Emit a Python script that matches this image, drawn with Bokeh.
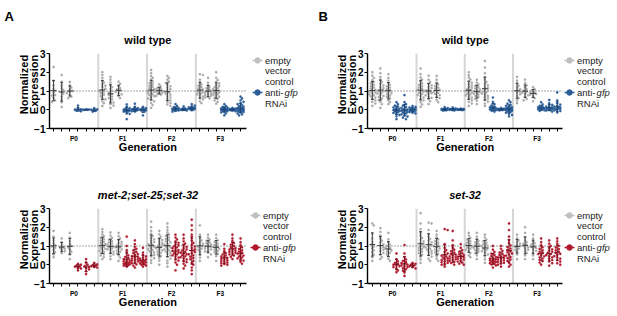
import numpy as np
from bokeh.plotting import figure
from bokeh.layouts import row, column
from bokeh.models import Range1d, FixedTicker, LinearAxis, Title
from bokeh.embed import file_html
from bokeh.resources import INLINE
from bokeh.core.properties import value

GENERATIONS = ["P0", "F1", "F2", "F3"]

# ---------- Panel A: wild type (top-left) ----------
a_P0 = [
    [2.28, 1.55, 1.3, 1.12, 1.0, 0.9, 0.78, 0.62, 0.5, 0.42, 0.75],
    [1.85, 1.5, 1.3, 1.15, 1.05, 0.95, 0.85, 0.7, 0.55, 0.4, 0.15],
    [1.48, 1.3, 1.18, 1.08, 1.0, 0.95, 0.88, 0.8, 0.7, 0.62],
    [0.22, 0.05, 0.0, -0.02, -0.05, -0.08, 0.02],
    [0.02, 0.0, -0.01, 0.01, 0.0],
    [0.08, 0.02, 0.0, -0.03, -0.06, -0.1],
]
a_F1 = [
    [2.0, 1.85, 1.7, 1.55, 1.45, 1.35, 1.28, 1.2, 1.12, 1.05, 1.0, 0.95, 0.88, 0.8, 0.72, 0.62, 0.55, 0.45, 0.35, 0.2],
    [1.75, 1.6, 1.45, 1.3, 1.2, 1.1, 1.0, 0.92, 0.85, 0.78, 0.7, 0.62, 0.55, 0.45, 0.38, 0.3, 0.22, 0.1],
    [1.5, 1.38, 1.25, 1.15, 1.08, 1.02, 0.96, 0.9, 0.82, 0.72, 0.62],
    [0.28, 0.15, 0.08, 0.04, 0.02, 0.0, -0.02, -0.04, -0.06, -0.08, -0.1, -0.15, -0.22, -0.5],
    [0.32, 0.15, 0.08, 0.05, 0.03, 0.01, 0.0, -0.01, -0.03, -0.05, -0.08, -0.1],
    [0.15, 0.08, 0.05, 0.02, 0.0, -0.01, -0.03, -0.05, -0.1, -0.3],
]
a_F2 = [
    [2.12, 1.95, 1.8, 1.7, 1.6, 1.5, 1.42, 1.35, 1.28, 1.22, 1.15, 1.1, 1.05, 1.0, 0.96, 0.92, 0.88, 0.82, 0.78, 0.72, 0.66, 0.6, 0.52, 0.45, 0.35, 0.25, 0.1],
    [1.35, 1.25, 1.18, 1.12, 1.08, 1.04, 1.0, 0.97, 0.94, 0.9, 0.86, 0.8, 0.74],
    [1.8, 1.7, 1.6, 1.5, 1.42, 1.32, 1.25, 1.18, 1.1, 1.04, 0.98, 0.92, 0.85, 0.8, 0.72, 0.65, 0.58, 0.5, 0.42, 0.35, 0.28, 0.2],
    [0.3, 0.2, 0.14, 0.1, 0.08, 0.06, 0.04, 0.03, 0.02, 0.01, 0.0, -0.01, -0.02, -0.04, -0.06, -0.1],
    [0.18, 0.06, 0.04, 0.02, 0.01, 0.0, -0.01, -0.02, -0.04],
    [0.3, 0.22, 0.16, 0.13, 0.11, 0.09, 0.08, 0.06, 0.05, 0.04, 0.02, 0.0, -0.03],
]
a_F3 = [
    [1.9, 1.85, 1.6, 1.45, 1.35, 1.28, 1.2, 1.14, 1.08, 1.03, 1.0, 0.96, 0.92, 0.87, 0.82, 0.76, 0.7, 0.62, 0.55, 0.45, 0.35],
    [1.7, 1.45, 1.32, 1.22, 1.15, 1.08, 1.02, 0.98, 0.94, 0.9, 0.86, 0.82, 0.78, 0.74, 0.7, 0.65, 0.6],
    [2.0, 1.7, 1.58, 1.48, 1.4, 1.32, 1.26, 1.2, 1.15, 1.1, 1.06, 1.02, 0.98, 0.95, 0.92, 0.88, 0.84, 0.8, 0.75, 0.7, 0.64, 0.58, 0.5, 0.42, 0.32],
    [0.3, 0.2, 0.15, 0.12, 0.1, 0.08, 0.06, 0.05, 0.04, 0.03, 0.02, 0.01, 0.0, -0.01, -0.02, -0.03, -0.05, -0.06, -0.08, -0.1, -0.14, -0.2, -0.3],
    [0.1, 0.06, 0.04, 0.03, 0.02, 0.01, 0.0, -0.01, -0.02, -0.03, -0.05, -0.08],
    [0.7, 0.6, 0.5, 0.42, 0.35, 0.3, 0.25, 0.2, 0.16, 0.13, 0.1, 0.08, 0.06, 0.04, 0.02, 0.01, 0.0, -0.01, -0.02, -0.04, -0.06, -0.08, -0.1, -0.12, -0.15, -0.2, -0.25, -0.3],
]

# ---------- Panel B: wild type (top-right) ----------
b_P0 = [
    [2.0, 1.82, 1.7, 1.58, 1.48, 1.4, 1.32, 1.25, 1.18, 1.12, 1.06, 1.01, 0.96, 0.92, 0.87, 0.82, 0.77, 0.71, 0.65, 0.58, 0.5, 0.42, 0.33, 0.2],
    [2.2, 1.95, 1.75, 1.6, 1.48, 1.38, 1.3, 1.22, 1.15, 1.08, 1.02, 0.97, 0.92, 0.86, 0.8, 0.74, 0.68, 0.6, 0.52, 0.42, 0.3, 0.1],
    [1.9, 1.7, 1.55, 1.42, 1.32, 1.24, 1.17, 1.1, 1.04, 0.99, 0.94, 0.88, 0.82, 0.75, 0.68, 0.6, 0.5, 0.4, 0.3],
    [0.4, 0.3, 0.22, 0.16, 0.12, 0.08, 0.05, 0.02, 0.0, -0.02, -0.04, -0.07, -0.1, -0.13, -0.17, -0.22, -0.28, -0.35, -0.5],
    [0.78, 0.4, 0.3, 0.22, 0.15, 0.1, 0.06, 0.02, 0.0, -0.03, -0.06, -0.09, -0.12, -0.16, -0.2, -0.25, -0.3, -0.36, -0.42, -0.5],
    [0.2, 0.15, 0.12, 0.08, 0.06, 0.04, 0.02, 0.0, -0.02, -0.04, -0.06, -0.09, -0.12, -0.16, -0.2],
]
b_F1 = [
    [2.2, 1.9, 1.72, 1.6, 1.5, 1.4, 1.32, 1.25, 1.18, 1.12, 1.06, 1.01, 0.96, 0.9, 0.84, 0.78, 0.72, 0.65, 0.58, 0.5, 0.4, 0.28, 0.15],
    [1.82, 1.6, 1.48, 1.38, 1.3, 1.22, 1.15, 1.09, 1.03, 0.98, 0.93, 0.88, 0.83, 0.77, 0.7, 0.63, 0.55, 0.45, 0.3],
    [1.8, 1.6, 1.45, 1.35, 1.26, 1.18, 1.12, 1.06, 1.0, 0.95, 0.9, 0.84, 0.78, 0.7, 0.62, 0.52, 0.4],
    [0.14, 0.08, 0.05, 0.03, 0.02, 0.01, 0.0, -0.01, -0.02, -0.03, -0.05],
    [0.12, 0.07, 0.04, 0.03, 0.02, 0.01, 0.0, -0.01, -0.02, -0.04],
    [0.06, 0.04, 0.03, 0.02, 0.01, 0.0, 0.0, -0.01, -0.02],
]
b_F2 = [
    [2.0, 1.85, 1.72, 1.62, 1.52, 1.44, 1.36, 1.29, 1.22, 1.16, 1.1, 1.05, 1.0, 0.96, 0.91, 0.86, 0.81, 0.76, 0.7, 0.64, 0.57, 0.5, 0.42, 0.33, 0.2],
    [1.6, 1.45, 1.35, 1.27, 1.2, 1.14, 1.08, 1.03, 0.99, 0.95, 0.9, 0.85, 0.8, 0.74, 0.67, 0.58, 0.48, 0.3],
    [2.6, 2.25, 1.95, 1.75, 1.6, 1.48, 1.38, 1.3, 1.22, 1.15, 1.08, 1.02, 0.97, 0.92, 0.86, 0.8, 0.74, 0.67, 0.6, 0.52, 0.43, 0.33, 0.2],
    [0.65, 0.42, 0.3, 0.22, 0.17, 0.13, 0.1, 0.08, 0.06, 0.04, 0.02, 0.0, -0.02, -0.05, -0.1],
    [0.1, 0.06, 0.04, 0.03, 0.02, 0.01, 0.0, -0.01, -0.02, -0.04],
    [0.5, 0.4, 0.32, 0.26, 0.21, 0.17, 0.14, 0.11, 0.09, 0.07, 0.05, 0.03, 0.01, 0.0, -0.02, -0.04, -0.06, -0.09, -0.12, -0.16, -0.22, -0.28, -0.35],
]
b_F3 = [
    [1.75, 1.55, 1.4, 1.28, 1.18, 1.1, 1.03, 0.97, 0.9, 0.82, 0.73, 0.62, 0.5, 0.35],
    [1.6, 1.42, 1.3, 1.2, 1.1, 1.02, 0.96, 0.9, 0.84, 0.77, 0.68, 0.58, 0.5],
    [1.2, 1.1, 1.02, 0.96, 0.92, 0.88, 0.84, 0.8, 0.72, 0.62, 0.45],
    [0.4, 0.28, 0.2, 0.15, 0.12, 0.1, 0.08, 0.06, 0.04, 0.02, 0.0, -0.03, -0.06],
    [0.52, 0.35, 0.26, 0.2, 0.16, 0.13, 0.1, 0.08, 0.06, 0.04, 0.02, 0.0, -0.02, -0.05, -0.1],
    [0.92, 0.5, 0.35, 0.27, 0.21, 0.16, 0.13, 0.1, 0.08, 0.06, 0.04, 0.02, 0.0, -0.03, -0.07, -0.15],
]

# ---------- Panel C: met-2;set-25;set-32 (bottom-left) ----------
c_P0 = [
    [1.8, 1.5, 1.3, 1.15, 1.05, 0.97, 0.9, 0.8, 0.68, 0.55, 0.4],
    [1.4, 1.2, 1.05, 0.95, 0.9, 0.85, 0.8, 0.72, 0.62],
    [1.7, 1.45, 1.25, 1.1, 1.0, 0.92, 0.82, 0.7, 0.55, 0.3],
    [0.05, 0.0, -0.05, -0.08, -0.1, -0.14, -0.2, -0.3],
    [0.3, 0.12, 0.0, -0.08, -0.12, -0.18, -0.25, -0.35, -0.5],
    [0.1, 0.02, -0.02, -0.05, -0.08, -0.12, -0.15],
]
c_F1 = [
    [1.9, 1.75, 1.62, 1.52, 1.44, 1.36, 1.29, 1.22, 1.16, 1.1, 1.05, 1.0, 0.95, 0.9, 0.85, 0.8, 0.75, 0.69, 0.63, 0.56, 0.49, 0.41, 0.3],
    [1.72, 1.55, 1.43, 1.34, 1.26, 1.19, 1.13, 1.07, 1.02, 0.97, 0.92, 0.87, 0.82, 0.76, 0.7, 0.63, 0.55, 0.45, 0.3],
    [1.7, 1.52, 1.4, 1.3, 1.22, 1.15, 1.09, 1.03, 0.98, 0.93, 0.88, 0.82, 0.76, 0.69, 0.6, 0.5, 0.38, 0.2],
    [1.5, 1.0, 0.78, 0.62, 0.5, 0.42, 0.36, 0.3, 0.26, 0.22, 0.19, 0.16, 0.13, 0.1, 0.08, 0.06, 0.04, 0.02, 0.0, -0.02, -0.05, -0.1],
    [1.3, 1.1, 0.95, 0.85, 0.76, 0.68, 0.62, 0.56, 0.51, 0.46, 0.42, 0.38, 0.34, 0.3, 0.26, 0.22, 0.18, 0.13, 0.08, 0.02, -0.05, -0.15],
    [0.9, 0.65, 0.52, 0.44, 0.38, 0.33, 0.29, 0.25, 0.22, 0.19, 0.16, 0.13, 0.1, 0.07, 0.04, 0.0, -0.04, -0.1],
]
c_F2 = [
    [2.3, 2.0, 1.8, 1.65, 1.53, 1.43, 1.35, 1.28, 1.21, 1.15, 1.09, 1.04, 0.99, 0.94, 0.89, 0.84, 0.78, 0.72, 0.66, 0.59, 0.52, 0.44, 0.35, 0.24, 0.1],
    [1.8, 1.62, 1.5, 1.4, 1.32, 1.24, 1.17, 1.1, 1.04, 0.98, 0.93, 0.88, 0.82, 0.76, 0.7, 0.63, 0.55, 0.46, 0.36, 0.22, 0.0],
    [2.2, 2.0, 1.85, 1.72, 1.62, 1.53, 1.45, 1.38, 1.31, 1.25, 1.19, 1.13, 1.07, 1.02, 0.97, 0.92, 0.87, 0.82, 0.76, 0.7, 0.64, 0.57, 0.5, 0.42, 0.33, 0.22, 0.08, -0.1],
    [1.6, 1.45, 1.35, 1.25, 1.17, 1.1, 1.04, 0.98, 0.93, 0.88, 0.83, 0.78, 0.74, 0.7, 0.65, 0.6, 0.55, 0.5, 0.44, 0.38, 0.3, 0.22, 0.12, 0.0, -0.3],
    [1.6, 1.4, 1.25, 1.13, 1.03, 0.95, 0.88, 0.82, 0.76, 0.7, 0.65, 0.6, 0.55, 0.5, 0.45, 0.4, 0.34, 0.28, 0.21, 0.14, 0.05, -0.05, -0.2],
    [2.4, 2.1, 1.85, 1.6, 1.42, 1.28, 1.16, 1.06, 0.97, 0.89, 0.82, 0.75, 0.68, 0.62, 0.56, 0.5, 0.43, 0.36, 0.29, 0.2, 0.1, 0.0, -0.15, -0.3, -0.5],
]
c_F3 = [
    [2.1, 1.6, 1.42, 1.3, 1.2, 1.12, 1.05, 0.99, 0.93, 0.86, 0.78, 0.68, 0.55, 0.38, 0.2],
    [1.6, 1.45, 1.35, 1.27, 1.2, 1.14, 1.08, 1.03, 0.99, 0.95, 0.91, 0.87, 0.82, 0.77, 0.71, 0.64, 0.55, 0.4],
    [1.6, 1.42, 1.3, 1.21, 1.13, 1.06, 1.0, 0.95, 0.9, 0.85, 0.8, 0.74, 0.67, 0.58, 0.46, 0.2],
    [1.1, 0.85, 0.72, 0.62, 0.55, 0.49, 0.44, 0.4, 0.36, 0.32, 0.28, 0.24, 0.2, 0.16, 0.12, 0.08, 0.04, 0.0, -0.05],
    [1.6, 1.4, 1.27, 1.16, 1.07, 1.0, 0.94, 0.89, 0.84, 0.8, 0.76, 0.72, 0.68, 0.64, 0.6, 0.55, 0.49, 0.42, 0.3],
    [1.4, 1.2, 1.05, 0.93, 0.84, 0.77, 0.7, 0.64, 0.59, 0.54, 0.49, 0.44, 0.39, 0.34, 0.28, 0.22, 0.15, 0.05],
]

# ---------- Panel D: set-32 (bottom-right) ----------
d_P0 = [
    [2.2, 2.1, 1.65, 1.4, 1.22, 1.08, 0.97, 0.87, 0.77, 0.66, 0.54, 0.4, 0.2],
    [1.95, 1.75, 1.55, 1.4, 1.28, 1.18, 1.09, 1.01, 0.94, 0.87, 0.8, 0.72, 0.63, 0.52, 0.4, 0.3],
    [1.7, 1.35, 1.2, 1.08, 1.0, 0.94, 0.88, 0.82, 0.76, 0.7, 0.63, 0.55, 0.45, 0.32, 0.2],
    [0.6, 0.3, 0.18, 0.1, 0.05, 0.0, -0.04, -0.08, -0.13, -0.2, -0.3, -0.4],
    [1.05, 0.6, 0.4, 0.28, 0.2, 0.14, 0.08, 0.04, 0.0, -0.04, -0.08, -0.13, -0.18, -0.24, -0.32, -0.42, -0.6],
    [0.1, 0.05, 0.0, -0.04, -0.08, -0.12, -0.2],
]
d_F1 = [
    [2.75, 2.2, 1.9, 1.7, 1.55, 1.43, 1.33, 1.24, 1.16, 1.09, 1.02, 0.96, 0.9, 0.84, 0.77, 0.7, 0.62, 0.53, 0.42, 0.28, 0.1],
    [2.25, 2.2, 1.85, 1.65, 1.5, 1.38, 1.28, 1.19, 1.11, 1.04, 0.98, 0.92, 0.86, 0.8, 0.74, 0.67, 0.6, 0.52, 0.43, 0.32, 0.2],
    [1.8, 1.6, 1.46, 1.35, 1.26, 1.18, 1.11, 1.05, 0.99, 0.93, 0.87, 0.81, 0.74, 0.66, 0.57, 0.46, 0.32, 0.2],
    [1.9, 1.85, 1.1, 0.9, 0.78, 0.68, 0.6, 0.54, 0.48, 0.43, 0.38, 0.34, 0.3, 0.26, 0.22, 0.18, 0.14, 0.1, 0.05, 0.0, -0.1],
    [1.8, 1.3, 1.05, 0.9, 0.8, 0.72, 0.65, 0.59, 0.54, 0.49, 0.45, 0.41, 0.37, 0.33, 0.29, 0.25, 0.2, 0.15, 0.09, 0.0],
    [1.1, 0.9, 0.78, 0.69, 0.62, 0.56, 0.51, 0.47, 0.43, 0.39, 0.35, 0.31, 0.27, 0.22, 0.17, 0.11, 0.05, 0.0],
]
d_F2 = [
    [1.7, 1.55, 1.43, 1.34, 1.26, 1.19, 1.13, 1.07, 1.02, 0.97, 0.92, 0.86, 0.8, 0.72, 0.62, 0.5, 0.4],
    [1.7, 1.5, 1.37, 1.27, 1.19, 1.12, 1.06, 1.0, 0.95, 0.9, 0.84, 0.78, 0.71, 0.62, 0.5, 0.3],
    [1.6, 1.45, 1.34, 1.25, 1.17, 1.1, 1.04, 0.99, 0.94, 0.89, 0.84, 0.78, 0.72, 0.64, 0.55, 0.43, 0.28, 0.1],
    [1.0, 0.8, 0.68, 0.59, 0.52, 0.46, 0.41, 0.37, 0.33, 0.29, 0.26, 0.23, 0.2, 0.17, 0.14, 0.11, 0.08, 0.05, 0.01, -0.04, -0.15],
    [1.0, 0.85, 0.74, 0.65, 0.58, 0.52, 0.47, 0.43, 0.39, 0.35, 0.31, 0.27, 0.23, 0.19, 0.15, 0.1, 0.05, 0.0, -0.1],
    [2.2, 1.85, 1.5, 1.3, 1.15, 1.03, 0.94, 0.86, 0.79, 0.72, 0.66, 0.6, 0.54, 0.48, 0.42, 0.35, 0.28, 0.2, 0.1, 0.0, -0.1],
]
d_F3 = [
    [1.6, 1.42, 1.3, 1.2, 1.12, 1.05, 0.99, 0.93, 0.86, 0.78, 0.68, 0.55, 0.3],
    [2.0, 1.7, 1.45, 1.3, 1.2, 1.12, 1.05, 0.99, 0.93, 0.87, 0.8, 0.72, 0.62, 0.5, 0.3],
    [1.6, 1.4, 1.26, 1.16, 1.08, 1.01, 0.95, 0.89, 0.82, 0.74, 0.64, 0.5, 0.3],
    [1.4, 1.2, 1.05, 0.93, 0.84, 0.76, 0.69, 0.63, 0.57, 0.51, 0.45, 0.39, 0.33, 0.26, 0.19, 0.11, 0.0],
    [1.3, 1.12, 1.0, 0.9, 0.82, 0.75, 0.69, 0.63, 0.57, 0.51, 0.45, 0.39, 0.32, 0.25, 0.17, 0.08, -0.05],
    [1.4, 1.25, 1.12, 1.01, 0.92, 0.84, 0.77, 0.7, 0.64, 0.58, 0.52, 0.46, 0.39, 0.32, 0.25, 0.17, 0.08, 0.0],
]

GRAY = "#a9a9a9"
GRAY_BAR = "#3c3c3c"
BLUE = "#2c5f98"
BLUE_BAR = "#1d4577"
RED = "#b01a2e"
RED_BAR = "#7e0f1e"
FONT = "Liberation Sans"


def swarm(vals, ux, uy, diam=2.3, step=1.5, maxoff=3.2):
    vals = np.asarray(vals, float)
    order = np.argsort(-vals, kind="stable")
    cands = [0.0]
    k = 1
    while k * step <= maxoff:
        cands += [k * step, -k * step]
        k += 1
    placed = []
    offs = np.zeros(len(vals))
    for i in order:
        y = vals[i] * uy
        best, bestd = 0.0, -1.0
        for c in cands:
            dmin = min([np.hypot(c - px, y - py) for px, py in placed], default=99.0)
            if dmin >= diam:
                best = c
                break
            if dmin > bestd:
                bestd, best = dmin, c
        placed.append((best, y))
        offs[i] = best / ux
    return offs


def text_axis(p, side, loc, text, standoff, size, style, vertical=False):
    ax = LinearAxis(ticker=FixedTicker(ticks=[loc], minor_ticks=[]),
                    major_label_overrides={loc: text})
    ax.axis_line_color = None
    ax.major_tick_line_color = None
    ax.minor_tick_line_color = None
    ax.major_tick_out = 0
    ax.major_tick_in = 0
    ax.minor_tick_out = 0
    ax.minor_tick_in = 0
    ax.major_label_standoff = standoff
    ax.major_label_text_font = FONT
    ax.major_label_text_font_style = style
    ax.major_label_text_font_size = size
    ax.major_label_text_color = "black"
    if vertical:
        ax.major_label_orientation = "vertical"
    p.add_layout(ax, side)
    return ax


def panel(gens, accent, accent_bar, title, letter, W, H, FL, FT, FH, unit, x0,
          letter_px, leg_px, title_w):
    FB = H - FT - FH
    FW = W - FL
    x1 = x0 + FW / unit
    yu = FH / 4.0
    ncols = 6 * len(gens)
    axis_end = (ncols - 1) + 0.7

    def X(px):
        return x0 + (px - FL) / unit

    def Y(py):
        return 3 - (py - FT) / yu

    p = figure(width=W, height=H, x_range=Range1d(x0, x1), y_range=Range1d(-1, 3),
               output_backend="svg", toolbar_location=None,
               min_border_left=FL, min_border_right=0, min_border_top=FT, min_border_bottom=FB)
    p.title.visible = False
    p.outline_line_color = None
    p.xgrid.visible = False
    p.ygrid.visible = False
    p.background_fill_color = "white"
    p.border_fill_color = "white"

    # separators and reference line
    seps = [6 * g - 0.5 for g in range(1, len(gens))]
    p.segment(x0=seps, y0=[-1] * len(seps), x1=seps, y1=[3] * len(seps),
              line_color="#d6d6d6", line_width=2)
    p.segment(x0=[x0], y0=[1], x1=[axis_end], y1=[1], line_color="#444444",
              line_width=1, line_dash="1 2")

    for g, cols in enumerate(gens):
        for c, vals in enumerate(cols):
            xc = g * 6 + c
            ctrl = c < 3
            col = GRAY if ctrl else accent
            bar = GRAY_BAR if ctrl else accent_bar
            v = np.asarray(vals, float)
            offs = swarm(v, unit, yu)
            p.scatter(xc + offs, v, size=2.3, fill_color=col, line_color=col, line_width=0.3)
            m = v.mean()
            s = v.std(ddof=1)
            p.segment(x0=[xc - 0.36, xc, xc - 0.17, xc - 0.17],
                      y0=[m, m - s, m + s, m - s],
                      x1=[xc + 0.36, xc, xc + 0.17, xc + 0.17],
                      y1=[m, m + s, m + s, m - s],
                      line_color=bar, line_width=1)

    # main axes
    p.xaxis.bounds = (x0, axis_end)
    p.xaxis.ticker = FixedTicker(ticks=[2.5 + 6 * g for g in range(len(gens))],
                                 minor_ticks=[i for i in range(ncols)])
    p.xaxis.major_label_overrides = {2.5 + 6 * g: GENERATIONS[g] for g in range(len(gens))}
    p.xaxis.major_tick_out = 0
    p.xaxis.major_tick_in = 0
    p.xaxis.minor_tick_out = 3
    p.xaxis.minor_tick_in = 0
    p.xaxis.major_label_standoff = 3
    p.xaxis.major_label_text_font = FONT
    p.xaxis.major_label_text_font_style = "bold"
    p.xaxis.major_label_text_font_size = "6.5px"
    p.yaxis.ticker = FixedTicker(ticks=[-1, 0, 1, 2, 3], minor_ticks=[])
    p.yaxis.major_tick_out = 3
    p.yaxis.major_tick_in = 0
    p.yaxis.minor_tick_out = 0
    p.yaxis.major_label_standoff = 1
    p.yaxis.major_label_text_font = FONT
    p.yaxis.major_label_text_font_style = "bold"
    p.yaxis.major_label_text_font_size = "10px"
    for ax in (p.xaxis[0], p.yaxis[0]):
        ax.axis_line_color = "black"
        ax.axis_line_width = 1.4
        ax.major_tick_line_color = "black"
        ax.minor_tick_line_color = "black"
        ax.major_tick_line_width = 1
        ax.minor_tick_line_width = 1
        ax.major_label_text_color = "black"

    # axis titles as label-only axes
    ylab = Y(FT + 31)
    text_axis(p, "left", ylab, "Expression", -8, "11px", "bold", vertical=True)
    text_axis(p, "left", ylab, "Normalized", -5, "11px", "bold", vertical=True)
    text_axis(p, "below", (x0 + axis_end) / 2, "Generation", -4, "11px", "bold")

    # panel title and letter
    mid_px = FL + (axis_end - x0) * unit / 2
    t_style = title[1]
    tt = Title(text=title[0], align="left", offset=mid_px - FL - title_w / 2,
               text_font=FONT, text_font_style=t_style, text_font_size="11px",
               standoff=15, text_color="black")
    p.add_layout(tt, "above")
    if letter:
        tl = Title(text=letter, align="left", offset=letter_px - FL,
                   text_font=FONT, text_font_style="bold", text_font_size="13px",
                   standoff=1, text_color="black")
        p.add_layout(tl, "above")

    # legend (inside the frame's right extension)
    lx = FL + leg_px
    ly1 = FT + 7
    ly2 = FT + 39
    for yy, col in ((ly1, "#c0c0c0"), (ly2, accent)):
        p.line([X(lx), X(lx + 10)], [Y(yy), Y(yy)], line_color=col, line_width=1.6)
        p.scatter([X(lx + 5)], [Y(yy)], size=5.5, fill_color=col, line_color=col)
    tx = X(lx + 12.5)
    common = dict(text_font=value(FONT), text_font_size="9.5px", text_baseline="middle",
                  text_align="left", text_color="#222222")
    p.text(x=[tx, tx, tx, tx], y=[Y(ly1), Y(ly1 + 10.3), Y(ly1 + 20.6), Y(ly2 + 10.5)],
           text=["empty", "vector", "control", "RNAi"], **common)
    p.text(x=[tx], y=[Y(ly2)], text=["anti-"], **common)
    p.text(x=[X(lx + 12.5 + 19.6)], y=[Y(ly2)], text=["gfp"], text_font_style="italic", **common)
    return p


pA = panel([a_P0, a_F1, a_F2, a_F3], BLUE, BLUE_BAR, ("wild type", "bold"), "A",
           308, 158, 49, 53, 75, 8.13, -0.5, 4, 203, 47)
pB = panel([b_P0, b_F1, b_F2, b_F3], BLUE, BLUE_BAR, ("wild type", "bold"), "B",
           309, 158, 59, 53, 75, 8.04, -0.6, 10, 197, 47)
pC = panel([c_P0, c_F1, c_F2, c_F3], RED, RED_BAR, ("met-2;set-25;set-32", "bold italic"), "",
           308, 158, 49, 50, 75, 8.13, -0.5, 4, 201, 100)
pD = panel([d_P0, d_F1, d_F2, d_F3], RED, RED_BAR, ("set-32", "bold italic"), "",
           309, 158, 59, 50, 75, 8.04, -0.6, 10, 197, 32)

layout = column(row(pA, pB), row(pC, pD))
open("out.html", "w").write(file_html(layout, INLINE))
